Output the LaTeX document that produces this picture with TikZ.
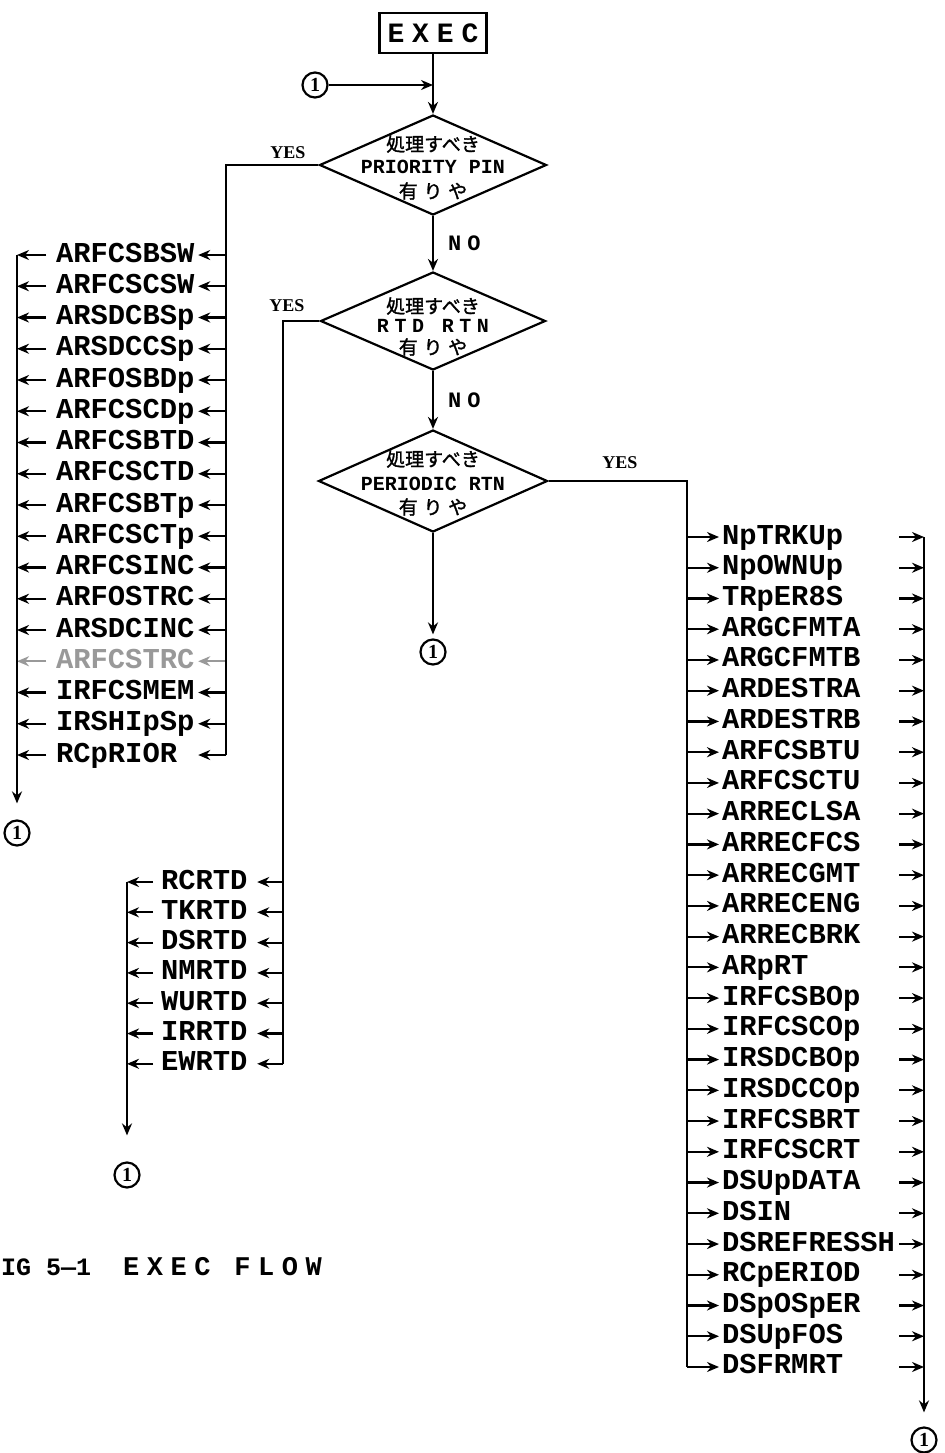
\documentclass[tikz,border=0pt]{standalone}
\usepackage{fontspec}
\setmainfont{Liberation Serif}
\newfontfamily\ttb{Liberation Mono}
\newfontfamily\ttsp{Liberation Mono}[LetterSpace=28]
\newfontfamily\jp{Noto Sans CJK JP}[FakeBold=1.5]
\newfontfamily\jpsp{Noto Sans CJK JP}[LetterSpace=30,FakeBold=1.5]
\usetikzlibrary{shapes.geometric,arrows.meta}
\begin{document}
\begin{tikzpicture}[x=0.5pt,y=-0.5pt,line width=1.1pt,
  arr/.style={-{Stealth[length=6pt,width=5pt]}},
  lab/.style={inner sep=0pt,anchor=west,align=left,text height=10pt,text depth=3pt,
              font=\ttb\bfseries\fontsize{14.4}{16}\selectfont},
  circ/.style={circle,draw,minimum size=12.5pt,inner sep=0pt,font=\rmfamily\bfseries\fontsize{10}{10}\selectfont},
  dia/.style={diamond,draw,inner sep=0pt},
  dtxt/.style={inner sep=0pt,font=\ttb\bfseries\fontsize{10}{12}\selectfont},
  dsp/.style={inner sep=0pt,font=\ttsp\bfseries\fontsize{10}{12}\selectfont},
  jtxt/.style={inner sep=0pt,font=\jp\fontsize{9.5}{11}\selectfont},
  jsp/.style={inner sep=0pt,font=\jpsp\fontsize{9.5}{11}\selectfont},
  yeslab/.style={inner sep=0pt,font=\rmfamily\bfseries\fontsize{9}{10}\selectfont},
  nolab/.style={inner sep=0pt,font=\ttsp\bfseries\fontsize{11}{12}\selectfont},
]
\useasboundingbox (0,0) rectangle (944,1453);

% main column
\node[draw,minimum width=53.5pt,minimum height=20pt,inner sep=0pt,
      font=\ttsp\bfseries\fontsize{14}{16}\selectfont] (exec) at (433,33) {EXEC};
\node[circ] (c0) at (315,85) {1};
\node[dia,minimum width=113.5pt,minimum height=50pt] (d1) at (433,165) {};
\node[dia,minimum width=112.5pt,minimum height=49pt] (d2) at (433,321) {};
\node[dia,minimum width=114.5pt,minimum height=51pt] (d3) at (433,481) {};
\node[circ] (c2) at (433,652) {1};

\node[jtxt] (d1a) at (433,144) {処理すべき};
\node[dtxt] (d1b) at (433,167) {PRIORITY PIN};
\node[jsp]  (d1c) at (433,191) {有りや};
\node[jtxt] (d2a) at (433,306) {処理すべき};
\node[dsp]  (d2b) at (433,326) {RTD RTN};
\node[jsp]  (d2c) at (433,347) {有りや};
\node[jtxt] (d3a) at (433,459) {処理すべき};
\node[dtxt] (d3b) at (433,484) {PERIODIC RTN};
\node[jsp]  (d3c) at (433,507) {有りや};

\draw[arr] (exec.south) -- (d1.north);
\draw[arr] (c0.east) -- (c0 -| exec.south);
\draw[arr] (d1.south) -- (d2.north) node[nolab,pos=0.5,right=7pt] (n1) {NO};
\draw[arr] (d2.south) -- (d3.north) node[nolab,pos=0.5,right=7pt] (n2) {NO};
\draw[arr,shorten >=2pt] (d3.south) -- (c2.north);

\node[yeslab] (y1) at (288,153) {YES};
\node[yeslab] (y2) at (287,306) {YES};
\node[yeslab] (y3) at (620,463) {YES};

% PRIORITY list (left)
\foreach \t/\c [count=\i from 0] in {ARFCSBSW/black,ARFCSCSW/black,ARSDCBSp/black,ARSDCCSp/black,
   ARFOSBDp/black,ARFCSCDp/black,ARFCSBTD/black,ARFCSCTD/black,ARFCSBTp/black,ARFCSCTp/black,
   ARFCSINC/black,ARFOSTRC/black,ARSDCINC/black,ARFCSTRC/black!40,IRFCSMEM/black,IRSHIpSp/black,RCpRIOR/black}{
  \pgfmathsetmacro\yy{255+31.25*\i}
  \node[lab,text width=70.5pt,text=\c] (pa\i) at (55,\yy) {\t};
  \coordinate (pr\i) at (226,\yy);
  \coordinate (pl\i) at (17,\yy);
  \draw[arr,draw=\c,fill=\c] (pr\i) -- (pa\i.east);
  \draw[arr,draw=\c,fill=\c,shorten <=4.5pt] (pa\i.west) -- (pl\i);
}
\node[circ] (c1) at (17,833) {1};
\draw (d1.west) -| (pr16);
\draw[arr,shorten >=8pt] (pl0) -- (c1.north);

% RTD list
\foreach \t [count=\i from 0] in {RCRTD,TKRTD,DSRTD,NMRTD,WURTD,IRRTD,EWRTD}{
  \pgfmathsetmacro\yy{882+30.3*\i}
  \node[lab,text width=47.5pt] (qa\i) at (160,\yy) {\t};
  \coordinate (qr\i) at (283,\yy);
  \coordinate (ql\i) at (127,\yy);
  \draw[arr] (qr\i) -- (qa\i.east);
  \draw[arr,shorten <=3.5pt] (qa\i.west) -- (ql\i);
}
\node[circ] (c4) at (127,1175) {1};
\draw (d2.west) -| (qr6);
\draw[arr,shorten >=13pt] (ql0) -- (c4.north);

% PERIODIC list (right)
\foreach \t [count=\i from 0] in {NpTRKUp,NpOWNUp,TRpER8S,ARGCFMTA,ARGCFMTB,ARDESTRA,ARDESTRB,
   ARFCSBTU,ARFCSCTU,ARRECLSA,ARRECFCS,ARRECGMT,ARRECENG,ARRECBRK,ARpRT,IRFCSBOp,IRFCSCOp,
   IRSDCBOp,IRSDCCOp,IRFCSBRT,IRFCSCRT,DSUpDATA,DSIN,DSREFRESSH,RCpERIOD,DSpOSpER,DSUpFOS,DSFRMRT}{
  \pgfmathsetmacro\yy{537+30.74*\i}
  \node[lab,text width=88pt] (ra\i) at (721,\yy) {\t};
  \coordinate (rl\i) at (687,\yy);
  \coordinate (rr\i) at (924,\yy);
  \draw[arr,shorten >=1pt] (rl\i) -- (ra\i.west);
  \draw[arr] (ra\i.east) -- (rr\i);
}
\node[circ] (c3) at (924,1440) {1};
\draw (d3.east) -| (rl27);
\draw[arr,shorten >=7pt] (rr0) -- (c3.north);

% caption
\node[inner sep=0pt,anchor=west,font=\ttb\bfseries\fontsize{12.5}{14}\selectfont] (cap1) at (0,1267) {IG 5—1};
\node[inner sep=0pt,anchor=west,font=\ttsp\bfseries\fontsize{13.5}{15}\selectfont] (cap2) at (122,1267) {EXEC FLOW};
\end{tikzpicture}
\end{document}
